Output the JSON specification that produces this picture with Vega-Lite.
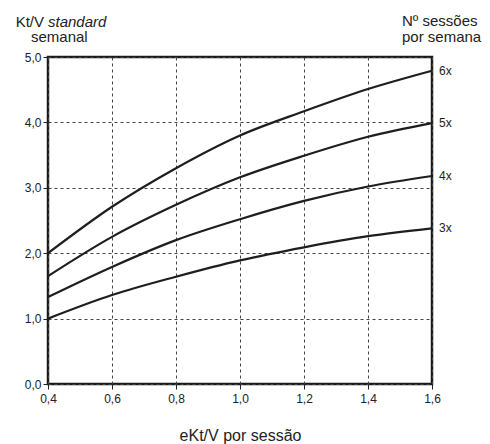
{
  "$schema": "https://vega.github.io/schema/vega-lite/v6.json",
  "width": 384,
  "height": 327,
  "autosize": {"type": "none"},
  "padding": {"left": 48, "top": 57, "right": 58, "bottom": 60},
  "background": "white",
  "config": {
    "font": "Liberation Sans",
    "view": {"stroke": "#1a1a1a", "strokeWidth": 2.5},
    "axis": {
      "domain": false,
      "grid": true,
      "gridDash": [3, 3],
      "gridColor": "#444444",
      "gridWidth": 1,
      "ticks": true,
      "tickColor": "#222222",
      "tickSize": 5,
      "labelFontSize": 12,
      "labelColor": "#222222",
      "labelFont": "Liberation Sans",
      "labelFlush": false,
      "labelOverlap": false,
      "titleFont": "Liberation Sans",
      "titleFontWeight": "normal",
      "titleColor": "#222222"
    }
  },
  "datasets": {
    "curves": [
      {"ektv": 0.4, "kt": 2.0, "s": "6x"},
      {"ektv": 0.6, "kt": 2.71, "s": "6x"},
      {"ektv": 0.8, "kt": 3.3, "s": "6x"},
      {"ektv": 1.0, "kt": 3.8, "s": "6x"},
      {"ektv": 1.2, "kt": 4.17, "s": "6x"},
      {"ektv": 1.4, "kt": 4.51, "s": "6x"},
      {"ektv": 1.6, "kt": 4.79, "s": "6x"},
      {"ektv": 0.4, "kt": 1.65, "s": "5x"},
      {"ektv": 0.6, "kt": 2.25, "s": "5x"},
      {"ektv": 0.8, "kt": 2.74, "s": "5x"},
      {"ektv": 1.0, "kt": 3.16, "s": "5x"},
      {"ektv": 1.2, "kt": 3.49, "s": "5x"},
      {"ektv": 1.4, "kt": 3.78, "s": "5x"},
      {"ektv": 1.6, "kt": 3.99, "s": "5x"},
      {"ektv": 0.4, "kt": 1.33, "s": "4x"},
      {"ektv": 0.6, "kt": 1.79, "s": "4x"},
      {"ektv": 0.8, "kt": 2.2, "s": "4x"},
      {"ektv": 1.0, "kt": 2.52, "s": "4x"},
      {"ektv": 1.2, "kt": 2.8, "s": "4x"},
      {"ektv": 1.4, "kt": 3.02, "s": "4x"},
      {"ektv": 1.6, "kt": 3.18, "s": "4x"},
      {"ektv": 0.4, "kt": 1.0, "s": "3x"},
      {"ektv": 0.6, "kt": 1.36, "s": "3x"},
      {"ektv": 0.8, "kt": 1.64, "s": "3x"},
      {"ektv": 1.0, "kt": 1.89, "s": "3x"},
      {"ektv": 1.2, "kt": 2.09, "s": "3x"},
      {"ektv": 1.4, "kt": 2.26, "s": "3x"},
      {"ektv": 1.6, "kt": 2.38, "s": "3x"}
    ]
  },
  "layer": [
    {
      "data": {"name": "curves"},
      "mark": {"type": "line", "interpolate": "monotone", "strokeWidth": 2.2, "color": "#1e1e1e"},
      "encoding": {
        "x": {
          "field": "ektv",
          "type": "quantitative",
          "scale": {"domain": [0.4, 1.6], "nice": false, "zero": false},
          "axis": {
            "values": [0.4, 0.6, 0.8, 1.0, 1.2, 1.4, 1.6],
            "labelExpr": "replace(format(datum.value, '.1f'), '.', ',')",
            "labelPadding": 4,
            "title": "eKt/V por sessão",
            "titleFontSize": 16,
            "titlePadding": 23
          }
        },
        "y": {
          "field": "kt",
          "type": "quantitative",
          "scale": {"domain": [0, 5], "nice": false},
          "axis": {
            "values": [0, 1, 2, 3, 4, 5],
            "labelExpr": "replace(format(datum.value, '.1f'), '.', ',')",
            "labelPadding": 2,
            "title": null
          }
        },
        "detail": {"field": "s", "type": "nominal"}
      }
    },
    {
      "data": {"name": "curves"},
      "transform": [{"filter": "datum.ektv == 1.6"}],
      "mark": {"type": "text", "align": "left", "baseline": "middle", "dx": 7, "fontSize": 12, "color": "#222222"},
      "encoding": {
        "x": {"field": "ektv", "type": "quantitative"},
        "y": {"field": "kt", "type": "quantitative"},
        "text": {"field": "s", "type": "nominal"}
      }
    },
    {
      "data": {"values": [{}]},
      "mark": {"type": "text", "text": "Kt/V", "align": "right", "baseline": "alphabetic", "dx": -4, "fontSize": 15, "color": "#222222"},
      "encoding": {"x": {"datum": 0.4}, "y": {"datum": 5.46}}
    },
    {
      "data": {"values": [{}]},
      "mark": {"type": "text", "text": "standard", "align": "left", "baseline": "alphabetic", "fontStyle": "italic", "fontSize": 15, "color": "#222222"},
      "encoding": {"x": {"datum": 0.4}, "y": {"datum": 5.46}}
    },
    {
      "data": {"values": [{}]},
      "mark": {"type": "text", "text": "semanal", "align": "left", "baseline": "alphabetic", "dx": -17, "fontSize": 15, "color": "#222222"},
      "encoding": {"x": {"datum": 0.4}, "y": {"datum": 5.229}}
    },
    {
      "data": {"values": [{}]},
      "mark": {"type": "text", "text": "Nº sessões", "align": "left", "baseline": "alphabetic", "dx": -30, "fontSize": 15, "color": "#222222"},
      "encoding": {"x": {"datum": 1.6}, "y": {"datum": 5.48}}
    },
    {
      "data": {"values": [{}]},
      "mark": {"type": "text", "text": "por semana", "align": "left", "baseline": "alphabetic", "dx": -30, "fontSize": 15, "color": "#222222"},
      "encoding": {"x": {"datum": 1.6}, "y": {"datum": 5.229}}
    }
  ]
}
